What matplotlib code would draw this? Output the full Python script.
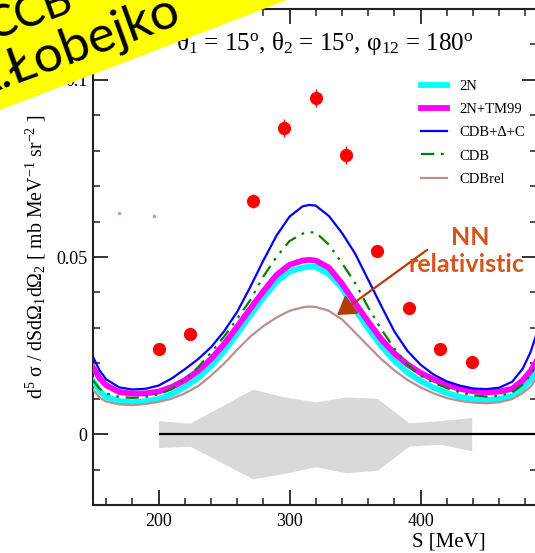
import matplotlib
matplotlib.use("Agg")
import matplotlib.pyplot as plt
from matplotlib.patches import Polygon
from matplotlib.ticker import MultipleLocator, FixedLocator, FuncFormatter

plt.rcParams['font.family'] = ['Liberation Serif', 'DejaVu Serif']
plt.rcParams['mathtext.fontset'] = 'custom'
plt.rcParams['mathtext.rm'] = 'Liberation Serif'
plt.rcParams['mathtext.it'] = 'Liberation Serif:italic'
plt.rcParams['mathtext.bf'] = 'Liberation Serif:bold'

# ---------------- data ----------------
# arc-length S [MeV] grid for the theoretical predictions
energy = [150, 155, 160, 170, 180, 190, 200, 210, 220, 230, 240, 250, 260, 270,
          280, 290, 300, 310, 315, 320, 330, 340, 350, 360, 370, 380, 390, 400,
          410, 420, 430, 440, 450, 460, 470, 478, 484, 490]

xs_2n = [.0150, .0122, .0105, .0093, .0090, .0093, .0099, .0113, .0133, .0158,
         .0192, .0234, .0283, .0335, .0385, .0430, .0459, .0470, .0473, .0472,
         .0452, .0413, .0352, .0298, .0249, .0207, .0174, .0150, .0131, .0116,
         .0105, .0099, .0096, .0099, .0108, .0130, .0153, .0190]

xs_2n_tm99 = [.0188, .0158, .0138, .0119, .0114, .0115, .0120, .0133, .0152, .0178,
              .0212, .0254, .0303, .0354, .0403, .0449, .0478, .0490, .0492, .0490,
              .0470, .0425, .0370, .0318, .0268, .0228, .0197, .0173, .0154, .0139,
              .0128, .0121, .0118, .0120, .0128, .0152, .0178, .0215]

xs_cdb_delta_c = [.0218, .0180, .0155, .0132, .0126, .0128, .0137, .0157, .0183, .0211,
                  .0245, .0290, .0345, .0415, .0490, .0560, .0614, .0643, .0647, .0645,
                  .0616, .0568, .0510, .0436, .0362, .0290, .0235, .0196, .0168, .0149,
                  .0137, .0129, .0127, .0131, .0148, .0185, .0232, .0300]

xs_cdb = [.0152, .0128, .0115, .0105, .0102, .0105, .0112, .0127, .0155, .0188,
          .0230, .0275, .0325, .0378, .0445, .0500, .0545, .0566, .0570, .0569,
          .0535, .0483, .0427, .0358, .0296, .0242, .0196, .0165, .0145, .0130,
          .0118, .0110, .0106, .0108, .0118, .0140, .0167, .0205]

xs_cdb_rel = [.0126, .0103, .0092, .0084, .0082, .0085, .0091, .0100, .0115, .0135,
              .0165, .0199, .0238, .0275, .0305, .0329, .0348, .0358, .0360, .0359,
              .0348, .0324, .0287, .0249, .0212, .0180, .0153, .0132, .0115, .0102,
              .0094, .0089, .0087, .0090, .0099, .0116, .0134, .0165]

# measured cross sections
s_exp = [200, 224, 272, 296, 320, 343, 367, 391, 415, 439]
xs_exp = [0.0240, 0.0282, 0.0658, 0.0864, 0.0949, 0.0788, 0.0517, 0.0356, 0.0240, 0.0203]
err_exp = [0.0012, 0.0012, 0.0020, 0.0025, 0.0026, 0.0025, 0.0015, 0.0012, 0.0012, 0.0012]

# systematic uncertainty band
sys_hi = [0.0038, 0.0031, 0.0127, 0.0105, 0.0091, 0.0105, 0.0101, 0.0032, 0.0038, 0.0047]
sys_lo = [-0.0038, -0.0034, -0.0126, -0.0111, -0.0092, -0.0109, -0.0102, -0.0034, -0.0028, -0.0047]

# two stray points
s_stray = [169.8, 196.6]
xs_stray = [0.0624, 0.0616]

# ---------------- figure ----------------
W, H = 535, 553
fig = plt.figure(figsize=(W / 100, H / 100), dpi=100)
ax = fig.add_axes([93 / W, (H - 505) / H, (536.5 - 93) / W, (505 - 9) / H])
ax.set_xlim(150, 488.5)
ax.set_ylim(-0.02, 0.12)

ax.fill_between(s_exp, sys_lo, sys_hi, color='#d9d9d9', lw=0, zorder=1)
ax.hlines(0, 200, 490, color='black', lw=1.6, zorder=2)

ax.plot(energy, xs_2n, color='#00ffff', lw=4.2, label='2N', zorder=3)
ax.plot(energy, xs_2n_tm99, color='#ff00ff', lw=4.2, label='2N+TM99', zorder=4)
ax.plot(energy, xs_cdb_delta_c, color='#0000ff', lw=1.6, label='CDB+Δ+C', zorder=5)
ax.plot(energy, xs_cdb, color='#008000', lw=1.6, dashes=(6, 3, 1.2, 3, 1.2, 3),
        label='CDB', zorder=5)
ax.plot(energy, xs_cdb_rel, color='#bc8f8f', lw=1.6, label='CDBrel', zorder=5)

ax.errorbar(s_exp, xs_exp, yerr=err_exp, fmt='o', color='#ff0000', ms=8.5,
            elinewidth=1.0, capsize=0, zorder=6)
ax.plot(s_stray, xs_stray, 's', color='#c8a0a0', ms=1.5, zorder=6)

# axes styling
for sp in ax.spines.values():
    sp.set_linewidth(1.5)
    sp.set_color('#222222')
ax.xaxis.set_major_locator(MultipleLocator(100))
ax.xaxis.set_minor_locator(MultipleLocator(20))
ax.yaxis.set_major_locator(FixedLocator([0, 0.05, 0.1]))
ax.yaxis.set_minor_locator(MultipleLocator(0.01))
ax.yaxis.set_major_formatter(FuncFormatter(lambda v, p: f'{v:g}'))
ax.tick_params(which='both', direction='in', top=True, right=True,
               labelsize=13, color='#222222')
ax.tick_params(which='major', length=10.5, width=1.3)
ax.tick_params(which='minor', length=5, width=1.1)
ax.tick_params(axis='x', pad=6)
ax.tick_params(axis='y', pad=4)

leg = ax.legend(loc='upper left', bbox_to_anchor=(421 / W, 1 - 80 / H),
                bbox_transform=fig.transFigure, frameon=False, borderpad=0,
                borderaxespad=0, handlelength=1.8, handletextpad=0.85,
                labelspacing=0.68, fontsize=10.5)

# annotation for the relativistic calculation
ax.annotate('', xy=(336.3, 0.0336), xytext=(405, 0.052),
            arrowprops=dict(arrowstyle='-|>,head_length=0.55,head_width=0.35',
                            color='#b33c0b', lw=1.6, mutation_scale=20,
                            shrinkA=0, shrinkB=0), zorder=7)
fig.text(470 / W, 1 - 245 / H, 'NN', family='Lato', weight='bold',
         color='#d4561e', fontsize=18, ha='center', va='baseline')
fig.text(466 / W, 1 - 272 / H, 'relativistic', family='Lato', weight='bold',
         color='#d4561e', fontsize=18, ha='center', va='baseline')

# titles and axis labels
fig.text(325 / W, 1 - 50 / H,
         'θ$_1$ = 15$^{\\mathrm{o}}$, θ$_2$ = 15$^{\\mathrm{o}}$, φ$_{12}$ = 180$^{\\mathrm{o}}$',
         fontsize=18, ha='center', va='baseline')
fig.text(412 / W, 1 - 546 / H, 'S [MeV]', fontsize=15, ha='left', va='baseline')
fig.text(36 / W, 1 - 257 / H,
         'd$^5$ σ / dSdΩ$_1$dΩ$_2$ [ mb MeV$^{-1}$ sr$^{-2}$ ]',
         fontsize=14.3, rotation=90, ha='center', va='center')

# corner banner
banner = Polygon([(0, 1), (287 / W, 1), (0, 1 - 110 / H)], closed=True,
                 transform=fig.transFigure, facecolor='#ffff00', edgecolor='none',
                 zorder=10)
fig.add_artist(banner)
fig.text(76 / W, 1 - 10 / H, 'CCB', family='Lato', fontsize=32, rotation=20,
         rotation_mode='anchor', ha='right', va='baseline', zorder=11)
fig.text(183 / W, 1 - 23 / H, 'A.Łobejko', family='Lato', fontsize=37, rotation=20,
         rotation_mode='anchor', ha='right', va='baseline', zorder=11)

fig.savefig('out.png', dpi=100)
